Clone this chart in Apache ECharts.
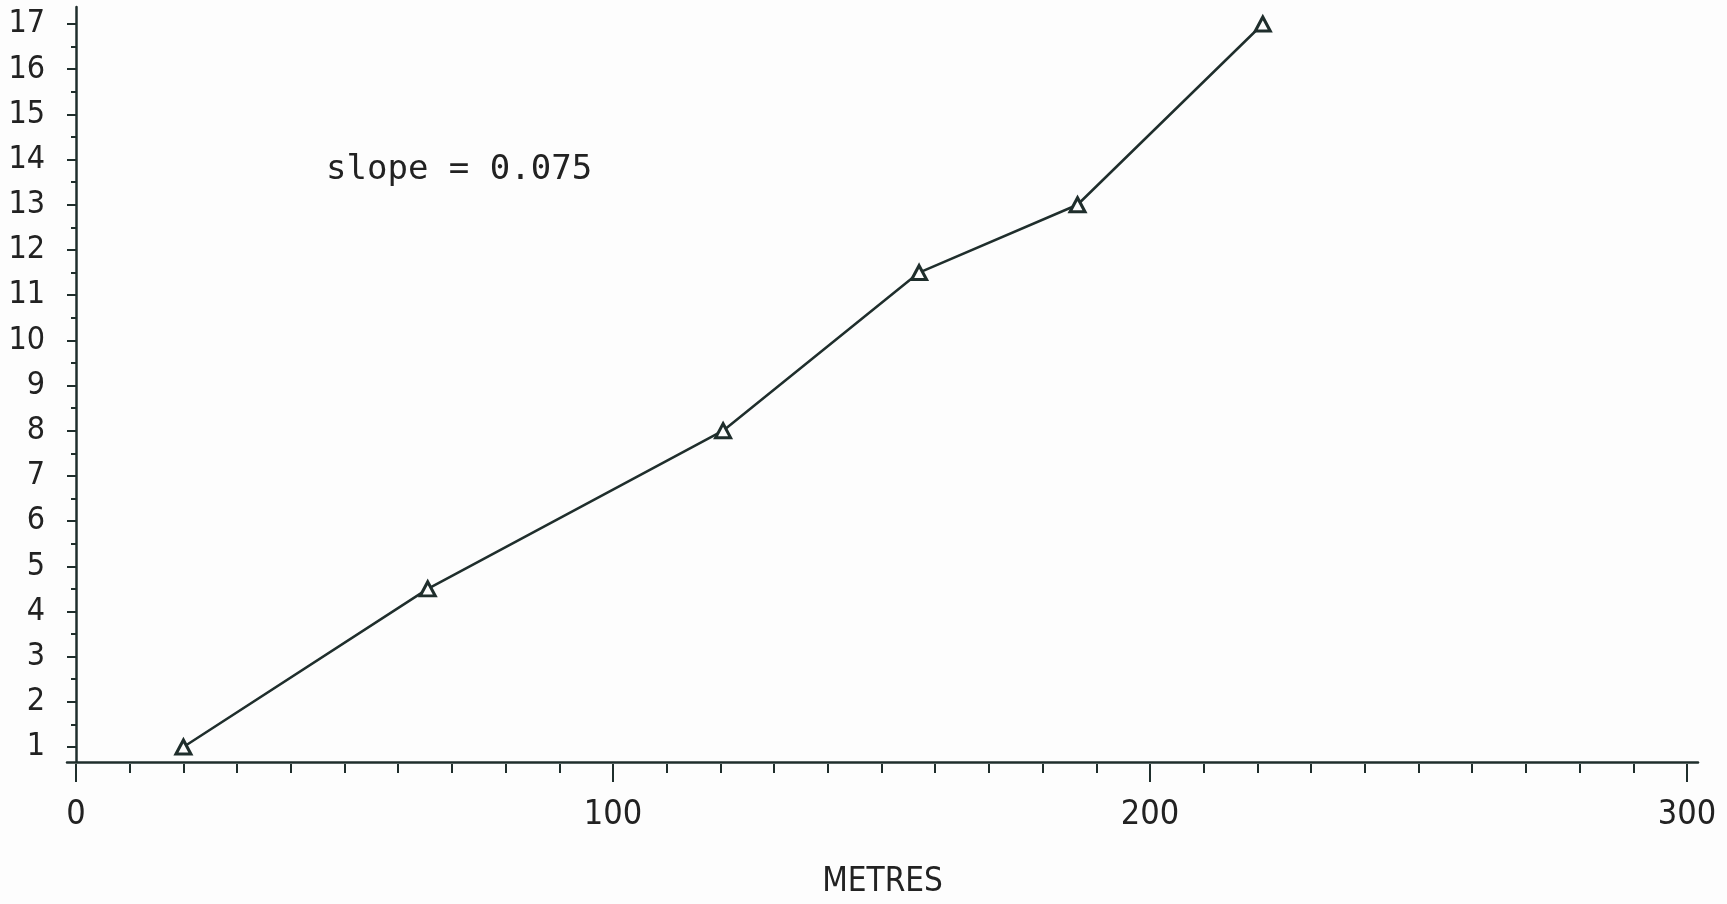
<!DOCTYPE html>
<html>
<head>
<meta charset="utf-8">
<script src="https://cdn.jsdelivr.net/npm/echarts@6/dist/echarts.min.js"></script>
<style>
  html, body { margin: 0; padding: 0; background: #fdfdfd; }
  #chart { width: 1727px; height: 904px; }
</style>
</head>
<body>
<div id="chart"></div>
<script>
// distance (metres) against value
var metres = [20, 65.5, 120.5, 157, 186.5, 221];
var values = [1, 4.5, 8, 11.5, 13, 17];
var xTicks = [0, 300, 100];   // min, max, interval
var yTicks = [1, 17, 1];
var note = 'slope = 0.075';

var ink = '#1f2e2c';
var labelFont = '"DejaVu Sans Condensed", "Liberation Sans Narrow", sans-serif';

var points = metres.map(function (m, i) { return [m, values[i]]; });

var myChart = echarts.init(document.getElementById('chart'));
var option = {
	backgroundColor: '#fdfdfd',
	animation: false,
	grid: [
		// outer frame: only the two axis lines
		{ left: 67, right: 29, top: 7, bottom: 140 },
		// scale with ticks and labels
		{ left: 76, right: 40, top: 24, bottom: 157 }
	],
	xAxis: [{
		gridIndex: 0,
		type: 'value',
		min: -1.7,
		max: 302,
		axisLine: { lineStyle: { color: ink, width: 2.5 } },
		axisTick: { show: false },
		axisLabel: { show: false },
		splitLine: { show: false },
		name: 'METRES',
		nameLocation: 'middle',
		nameGap: 104,
		nameTextStyle: { fontFamily: labelFont, fontSize: 33, color: '#222' }
	}, {
		gridIndex: 1,
		type: 'value',
		min: xTicks[0],
		max: xTicks[1],
		interval: xTicks[2],
		offset: 17,
		axisLine: { show: false },
		axisTick: { show: true, length: 18, lineStyle: { color: ink, width: 2 } },
		minorTick: { show: true, splitNumber: 10, length: 9, lineStyle: { color: ink, width: 2 } },
		axisLabel: { margin: 34, fontFamily: labelFont, fontSize: 34, color: '#222' },
		splitLine: { show: false }
	}],
	yAxis: [{
		gridIndex: 0,
		type: 'value',
		min: 0.62,
		max: 17.38,
		axisLine: { show: true, lineStyle: { color: ink, width: 2.5 } },
		axisTick: { show: false },
		axisLabel: { show: false },
		splitLine: { show: false }
	}, {
		gridIndex: 1,
		type: 'value',
		min: yTicks[0],
		max: yTicks[1],
		interval: yTicks[2],
		offset: 9,
		axisLine: { show: false },
		axisTick: { show: true, length: 9, lineStyle: { color: ink, width: 2 } },
		minorTick: { show: true, splitNumber: 2, length: 5, lineStyle: { color: ink, width: 2 } },
		axisLabel: { margin: 22, fontFamily: labelFont, fontSize: 32, color: '#222' },
		splitLine: { show: false }
	}],
	series: [{
		type: 'line',
		xAxisIndex: 1,
		yAxisIndex: 1,
		data: points,
		clip: false,
		symbol: 'triangle',
		symbolSize: [15, 14],
		lineStyle: { color: ink, width: 2.5 },
		itemStyle: { color: '#fdfdfd', borderColor: ink, borderWidth: 3 }
	}],
	graphic: [{
		type: 'text',
		left: 326,
		top: 153,
		style: {
			text: note,
			font: '34px "DejaVu Sans Mono", monospace',
			fill: '#222'
		}
	}]
};
myChart.setOption(option);
</script>
</body>
</html>
